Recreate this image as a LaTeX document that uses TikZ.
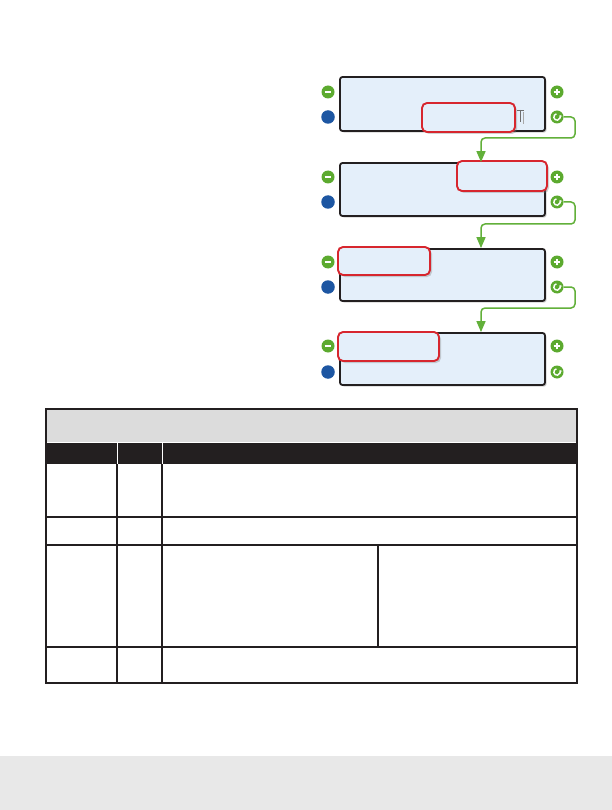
\documentclass[tikz,border=0pt]{standalone}
\usetikzlibrary{shadows,arrows.meta}
\definecolor{panelfill}{HTML}{E4EFFA}
\definecolor{panelborder}{HTML}{231F20}
\definecolor{hired}{HTML}{D7262E}
\definecolor{btngreen}{HTML}{5CAA2F}
\definecolor{btnblue}{HTML}{1D56A2}
\definecolor{linkgreen}{HTML}{62B03A}
\definecolor{hdrgray}{HTML}{DCDCDC}
\definecolor{tblack}{HTML}{231F20}
\definecolor{bandgray}{HTML}{E8E8E8}
\definecolor{cursorgray}{HTML}{6E6E6E}
\tikzset{
  panel/.style={draw=panelborder, line width=1.8pt, fill=panelfill, rounded corners=2.5pt,
    minimum width=205pt, minimum height=54pt, inner sep=0pt,
    drop shadow={shadow xshift=1.6pt, shadow yshift=-1.6pt, opacity=0.35}},
  hilite/.style={draw=hired, line width=1.9pt, fill=panelfill, rounded corners=5pt, inner sep=0pt,
    drop shadow={shadow xshift=2pt, shadow yshift=-2pt, opacity=0.35}},
  gbtn/.style={circle, fill=btngreen, minimum size=13pt, inner sep=0pt},
  bbtn/.style={circle, fill=btnblue, minimum size=13.5pt, inner sep=0pt},
  link/.style={draw=linkgreen, line width=1.5pt, rounded corners=4pt, -{Triangle[length=11pt,width=9pt]}},
  tline/.style={draw=tblack, line width=1.3pt},
  glyph/.style={white, line width=1.7pt},
}
\newcommand\btnminus[3]{\node[gbtn] (#1) at (#2,#3) {};
  \draw[glyph] ([xshift=-3.4pt]#1.center) -- ([xshift=3.4pt]#1.center);}
\newcommand\btnplus[3]{\node[gbtn] (#1) at (#2,#3) {};
  \draw[glyph] ([xshift=-3.4pt]#1.center) -- ([xshift=3.4pt]#1.center);
  \draw[glyph] ([yshift=-3.4pt]#1.center) -- ([yshift=3.4pt]#1.center);}
\newcommand\btnrefresh[3]{\node[gbtn] (#1) at (#2,#3) {};
  \draw[white, line width=1.4pt, -{Stealth[length=2.4pt,width=3.6pt]}] ([shift={(100:3.2pt)}]#1.center) arc[start angle=100, end angle=395, radius=3.2pt];}
\begin{document}
\begin{tikzpicture}[x=1pt, y=-1pt]
\useasboundingbox (0,0) rectangle (612,810);
\fill[white] (0,0) rectangle (612,810);
% bottom band
\fill[bandgray] (0,756) rectangle (612,810);

% panels
\node[panel, minimum height=54pt] (p1) at (442.5,104) {};
\node[panel, minimum height=53pt] (p2) at (442.5,189.5) {};
\node[panel, minimum height=52pt] (p3) at (442.5,275) {};
\node[panel, minimum height=52pt] (p4) at (442.5,359) {};

% highlight boxes
\node[hilite, minimum width=93pt, minimum height=29pt] (h1) at (468.5,117.5) {};
\node[hilite, minimum width=90pt, minimum height=30pt] (h2) at (502,176) {};
\node[hilite, minimum width=92pt, minimum height=28pt] (h3) at (384,261) {};
\node[hilite, minimum width=101pt, minimum height=29pt] (h4) at (388.5,346.5) {};

% cursor glyph
\draw[cursorgray, line width=0.8pt] (517,110) -- (524,110);
\draw[cursorgray, line width=0.9pt] (520.5,110) -- (520.5,122);
\draw[cursorgray!60, line width=0.8pt] (523.5,112) -- (523.5,124);

% buttons
\btnminus{m1}{328}{92}
\node[bbtn] (b1) at (328,117) {};
\btnplus{a1}{557}{92}
\btnrefresh{r1}{557}{117}

\btnminus{m2}{328}{177}
\node[bbtn] (b2) at (328,202) {};
\btnplus{a2}{557}{177}
\btnrefresh{r2}{557}{202}

\btnminus{m3}{328}{262}
\node[bbtn] (b3) at (328,287) {};
\btnplus{a3}{557}{262}
\btnrefresh{r3}{557}{287}

\btnminus{m4}{328}{346}
\node[bbtn] (b4) at (328,372) {};
\btnplus{a4}{557}{346}
\btnrefresh{r4}{557}{372}

% connectors
\coordinate (cx) at (481,0);
\draw[link] (r1.east) -| (575,138) -| (p2.north -| cx);
\draw[link] (r2.east) -| (575,224) -| (p3.north -| cx);
\draw[link] (r3.east) -| (575,308) -| (p4.north -| cx);

% table
\fill[hdrgray] (46,409) rectangle (577,442);
\fill[tblack] (46,443) rectangle (577,464);
\draw[white, line width=1pt] (117,443) -- (117,464);
\draw[white, line width=1pt] (162,443) -- (162,464);
\draw[tline] (46,409) rectangle (577,683);
\draw[tline] (117,464) -- (117,683);
\draw[tline] (162,464) -- (162,683);
\draw[tline] (46,517) -- (577,517);
\draw[tline] (46,545) -- (577,545);
\draw[tline] (46,647) -- (577,647);
\draw[tline] (378,545) -- (378,647);
\end{tikzpicture}
\end{document}
